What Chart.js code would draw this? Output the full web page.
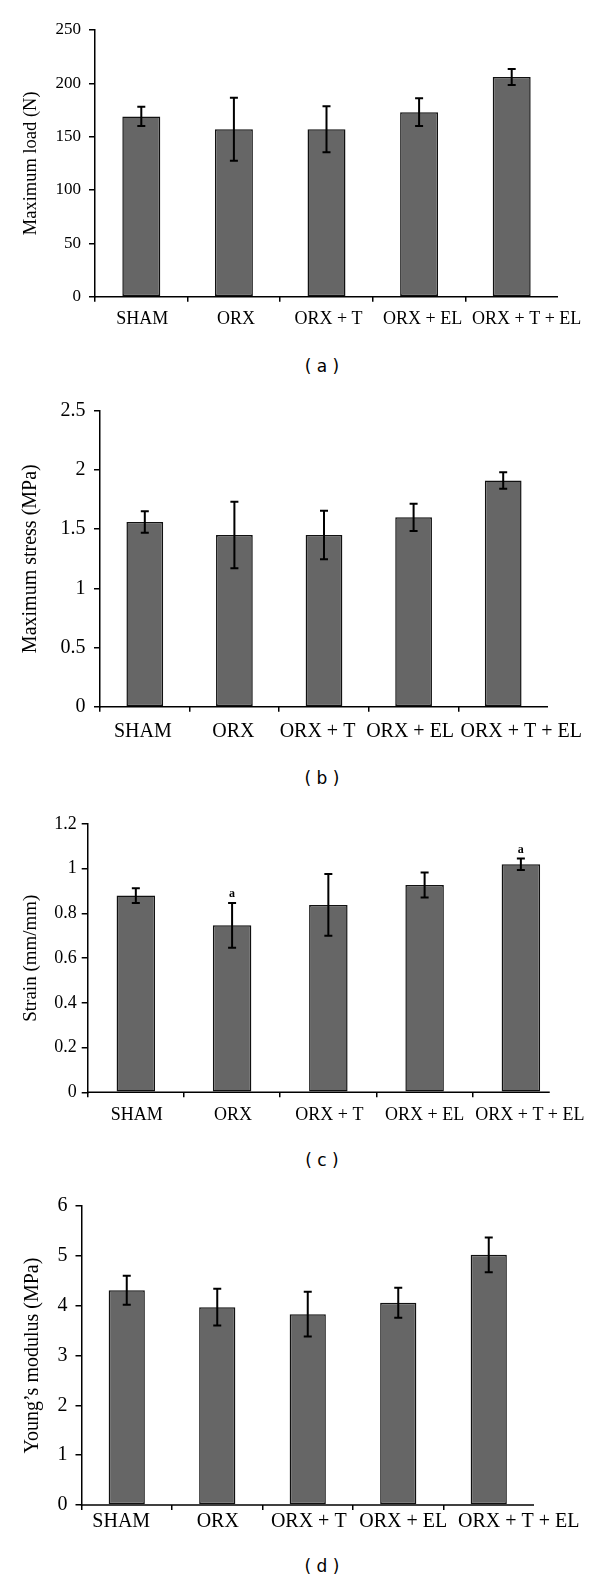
<!DOCTYPE html>
<html><head><meta charset="utf-8">
<script src="https://cdn.jsdelivr.net/npm/chart.js@4.4.1/dist/chart.umd.min.js"></script>
<style>
html,body{margin:0;padding:0;background:#fff;}
body{width:600px;height:1583px;position:relative;overflow:hidden;}
canvas{position:absolute;left:0;}
.cap{position:absolute;left:272px;width:100px;text-align:center;font-family:'DejaVu Sans',sans-serif;font-size:17px;color:#000;line-height:20px;white-space:pre;}
</style></head><body>
<canvas id="ca" width="600" height="340" style="top:0px"></canvas>
<canvas id="cb" width="600" height="370" style="top:380px"></canvas>
<canvas id="cc" width="600" height="345" style="top:790px"></canvas>
<canvas id="cd" width="600" height="378" style="top:1170px"></canvas>
<div class="cap" style="top:356px">( a )</div>
<div class="cap" style="top:768px">( b )</div>
<div class="cap" style="top:1150px">( c )</div>
<div class="cap" style="top:1556px">( d )</div>
<script>
// ---- data ----
const categories = ['SHAM', 'ORX', 'ORX + T', 'ORX + EL', 'ORX + T + EL'];

const maxLoad    = [169, 157, 157, 173, 206];
const maxLoadErr = [9, 29.5, 21.5, 13, 7.5];

const maxStress    = [1.56, 1.45, 1.45, 1.60, 1.91];
const maxStressErr = [0.09, 0.28, 0.205, 0.115, 0.07];

const strain      = [0.88, 0.747, 0.838, 0.927, 1.02];
const strainErr   = [0.033, 0.10, 0.138, 0.056, 0.026];
const strainMarks = ['', 'a', '', '', 'a'];

const youngs    = [4.31, 3.97, 3.83, 4.06, 5.02];
const youngsErr = [0.29, 0.37, 0.45, 0.30, 0.35];

const loadTicks   = [0, 250, 50];
const stressTicks = [0, 2.5, 0.5];
const strainTicks = [0, 1.2, 0.2];
const youngsTicks = [0, 6, 1];

// ---- rendering ----
const SERIF = "'Liberation Serif', 'Times New Roman', serif";
Chart.defaults.color = '#000';
Chart.defaults.font.family = SERIF;

const extrasPlugin = {
  id: 'extras',
  afterDatasetsDraw(chart, args, opts) {
    const {ctx, chartArea} = chart;
    const x = chart.scales.x, y = chart.scales.y;
    const meta = chart.getDatasetMeta(0);
    const vals = chart.data.datasets[0].data;
    ctx.save();
    // error bars
    ctx.strokeStyle = '#000';
    ctx.lineWidth = 2;
    meta.data.forEach((bar, i) => {
      const v = vals[i], e = opts.errors[i];
      const yt = y.getPixelForValue(v + e), yb = y.getPixelForValue(v - e);
      const xc = bar.x, cw = 4;
      ctx.beginPath();
      ctx.moveTo(xc, yt); ctx.lineTo(xc, yb);
      ctx.moveTo(xc - cw, yt); ctx.lineTo(xc + cw, yt);
      ctx.moveTo(xc - cw, yb); ctx.lineTo(xc + cw, yb);
      ctx.stroke();
      if (opts.marks && opts.marks[i]) {
        ctx.fillStyle = '#000';
        ctx.font = 'bold 12px ' + SERIF;
        ctx.textAlign = 'center';
        ctx.textBaseline = 'middle';
        ctx.fillText(opts.marks[i], xc, yt - 9);
      }
    });
    // x axis line
    const y0 = y.getPixelForValue(0);
    ctx.lineWidth = 1.5;
    ctx.beginPath();
    ctx.moveTo(chartArea.left - 0.75, y0);
    ctx.lineTo(x.getPixelForValue(opts.axisEnd), y0);
    ctx.stroke();
    // category labels (placed like the spreadsheet original, nudged apart)
    ctx.fillStyle = '#000';
    ctx.font = opts.labelSize + 'px ' + SERIF;
    ctx.textAlign = 'center';
    ctx.textBaseline = 'middle';
    chart.data.labels.forEach((lab, i) => {
      ctx.fillText(lab, x.getPixelForValue(i) + opts.labelShift[i], y0 + opts.labelDy);
    });
    ctx.restore();
  }
};

function fmt(v) { return String(Math.round(v * 100) / 100); }

function makePanel(id, cfg) {
  new Chart(document.getElementById(id), {
    type: 'bar',
    data: {
      labels: categories,
      datasets: [{
        data: cfg.values,
        backgroundColor: '#666666',
        borderColor: '#111111',
        borderWidth: 1.5,
        borderSkipped: false,
        barPercentage: cfg.barPct,
        categoryPercentage: 1
      }]
    },
    options: {
      responsive: false,
      animation: false,
      devicePixelRatio: 1,
      events: [],
      layout: {autoPadding: false, padding: {left: 0, right: cfg.padRight, top: cfg.padTop, bottom: cfg.padBottom}},
      plugins: {
        legend: {display: false},
        tooltip: {enabled: false},
        extras: {errors: cfg.errors, marks: cfg.marks, axisEnd: cfg.axisEnd,
                 labelSize: cfg.labelSize, labelDy: cfg.labelDy, labelShift: cfg.labelShift}
      },
      scales: {
        x: {
          type: 'category',
          offset: true,
          border: {display: false},
          grid: {
            offset: true,
            drawOnChartArea: false,
            drawTicks: true,
            tickLength: 5,
            lineWidth: 1.5,
            tickColor: (c) => c.type === 'tick' ? '#000' : 'rgba(0,0,0,0)'
          },
          ticks: {display: false, autoSkip: false, maxRotation: 0, minRotation: 0},
          afterFit: (s) => { s.height = 40; }
        },
        y: {
          min: cfg.ticks[0], max: cfg.ticks[1],
          border: {display: true, color: '#000', width: 1.5},
          grid: {drawOnChartArea: false, drawTicks: true, tickLength: 6, lineWidth: 1.5, tickColor: '#000'},
          ticks: {
            stepSize: cfg.ticks[2],
            padding: cfg.yPad,
            font: {family: SERIF, size: cfg.tickSize},
            color: '#000',
            callback: (v) => fmt(v)
          },
          title: {
            display: true,
            text: cfg.title,
            font: {family: SERIF, size: cfg.titleSize},
            color: '#000',
            padding: {top: cfg.titleX - cfg.titleSize * 0.6, bottom: 0}
          },
          afterFit: (s) => { s.width = cfg.left; }
        }
      }
    },
    plugins: [extrasPlugin]
  });
}

makePanel('ca', {values: maxLoad, errors: maxLoadErr, ticks: loadTicks,
  title: 'Maximum load (N)', titleSize: 18.5, titleX: 31, tickSize: 17, labelSize: 18, labelDy: 23, yPad: 8,
  labelShift: [1, 2, 2, 3.5, 15],
  left: 95, padRight: 42, padTop: 30, padBottom: 3.3, barPct: 0.41, axisEnd: 4.5});
makePanel('cb', {values: maxStress, errors: maxStressErr, ticks: stressTicks,
  title: 'Maximum stress (MPa)', titleSize: 20, titleX: 31, tickSize: 20, labelSize: 20, labelDy: 25, yPad: 8.5,
  labelShift: [-2, -1, -6.5, -3.5, 18],
  left: 100, padRight: 52, padTop: 30.7, padBottom: 3.3, barPct: 0.41, axisEnd: 4.5});
makePanel('cc', {values: strain, errors: strainErr, marks: strainMarks, ticks: strainTicks,
  title: 'Strain (mm/mm)', titleSize: 19, titleX: 31, tickSize: 18, labelSize: 18, labelDy: 22.7, yPad: 5,
  labelShift: [1, 1, 1, 0, 9],
  left: 87.7, padRight: 31, padTop: 34, padBottom: 2.7, barPct: 0.40, axisEnd: 4.3});
makePanel('cd', {values: youngs, errors: youngsErr, ticks: youngsTicks,
  title: 'Young\u2019s modulus (MPa)', titleSize: 20, titleX: 32.7, tickSize: 20, labelSize: 20, labelDy: 16.5, yPad: 8,
  labelShift: [-5.5, 0.5, 1, 5, 30],
  left: 81.5, padRight: 66, padTop: 36, padBottom: 3, barPct: 0.40, axisEnd: 4.5});
</script>
</body></html>
